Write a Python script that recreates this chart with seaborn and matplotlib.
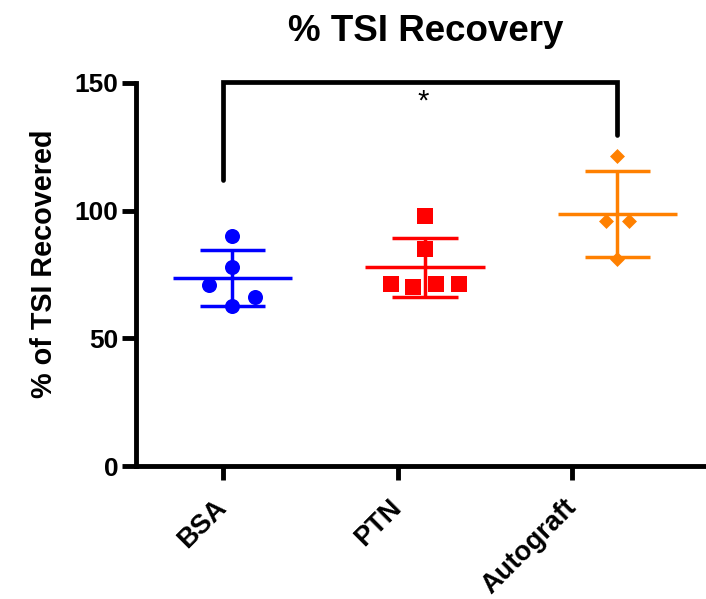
import matplotlib
matplotlib.use("Agg")
import matplotlib.pyplot as plt
import seaborn as sns
import numpy as np
import pandas as pd

# ---- data ----
groups = ["BSA", "PTN", "Autograft"]
bsa_values = [90.1, 78.1, 70.9, 62.7, 66.1]
ptn_values = [98.0, 85.0, 71.2, 70.0, 71.2, 71.2]
autograft_values = [121.4, 96.0, 96.0, 81.0]
y_ticks = [0, 50, 100, 150]
title = "% TSI Recovery"
y_label = "% of TSI Recovered"
significance = "*"

# ---- layout / style ----
values_by_group = [bsa_values, ptn_values, autograft_values]
offsets_by_group = [[0, 0, -0.12, 0, 0.12],
                    [0, 0, -0.177, -0.06, 0.06, 0.177],
                    [0, -0.06, 0.06, 0]]
colors = ["#0000FF", "#FF0000", "#FF8000"]
markers = ["o", "s", "D"]
marker_sizes = [117, 121, 58]

sns.set_style("ticks")
plt.rcParams["font.family"] = ["Liberation Sans", "DejaVu Sans"]
for k in ["text.color", "axes.labelcolor", "xtick.color", "ytick.color", "axes.edgecolor"]:
    plt.rcParams[k] = "black"

fig = plt.figure(figsize=(7.06, 5.99), dpi=100)
ax = fig.add_axes([136 / 706, (599 - 466) / 599, (706 - 136) / 706, (466 - 83) / 599])

for i, (g, vals, offs) in enumerate(zip(groups, values_by_group, offsets_by_group)):
    df = pd.DataFrame({"x": np.array(offs) + i, "y": vals})
    sns.scatterplot(data=df, x="x", y="y", ax=ax, color=colors[i], marker=markers[i],
                    s=marker_sizes[i], linewidth=0, legend=False, zorder=3)
    m = np.mean(vals)
    sd = np.std(vals, ddof=1)
    ax.hlines(m, i - 0.31, i + 0.31, color=colors[i], lw=2.5, zorder=4)
    ax.hlines([m - sd, m + sd], i - 0.17, i + 0.17, color=colors[i], lw=2.5, zorder=4)
    ax.vlines(i, m - sd, m + sd, color=colors[i], lw=2.5, zorder=4)

ax.set_xlim(-0.5, 2.46)
ax.set_ylim(0, 150)
ax.set_yticks(y_ticks)
ax.set_yticklabels([str(t) for t in y_ticks], fontsize=19, fontweight="bold")
ax.set_xticks([-0.048, 0.858, 1.766])
ax.set_xticklabels(groups, fontsize=19.5, fontweight="bold", rotation=45,
                   ha="right", va="center", rotation_mode="anchor")
ax.set_xlabel("")
ax.set_ylabel(y_label, fontsize=20.7, fontweight="bold")
ax.yaxis.set_label_coords(-0.137, (466 - 263.5) / 383)

for s in ["top", "right"]:
    ax.spines[s].set_visible(False)
for s in ["left", "bottom"]:
    ax.spines[s].set_linewidth(3.5)
ax.tick_params(axis="both", length=10, width=3.5, color="black")
ax.tick_params(axis="y", pad=2.5)
ax.tick_params(axis="x", pad=17)

t = ax.set_title(title, fontsize=26.5, fontweight="bold", pad=30)
t.set_x(0.509)

# significance bracket
ax.plot([-0.048, -0.048, 1.998, 1.998], [112, 150.4, 150.4, 129.6], color="black",
        lw=3.4, clip_on=False, solid_capstyle="round", solid_joinstyle="miter", zorder=5)
ax.text(0.99, 142.6, significance, ha="center", va="center", fontsize=21)

fig.savefig("out.png", dpi=100)
